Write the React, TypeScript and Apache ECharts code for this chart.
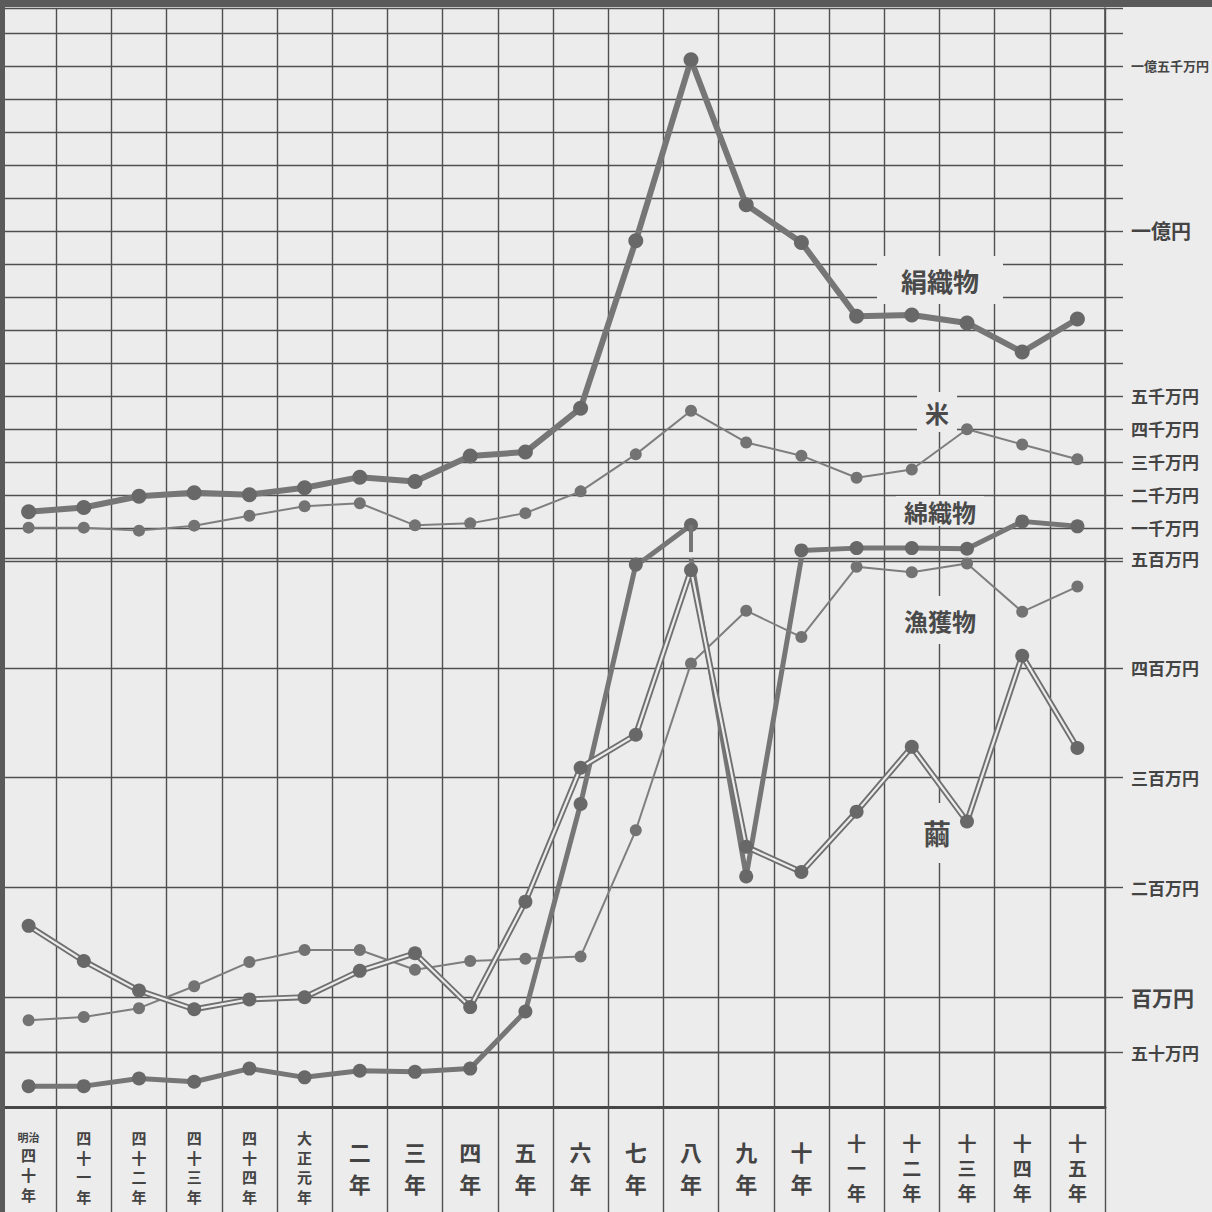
import React, { useEffect, useRef } from 'react';
import * as echarts from 'echarts';

// 年次
const years = ['明治四十年', '四十一年', '四十二年', '四十三年', '四十四年', '大正元年', '二年', '三年', '四年', '五年', '六年', '七年', '八年', '九年', '十年', '十一年', '十二年', '十三年', '十四年', '十五年'];

// 単位: 万円 (上段)
const silkFabrics = [1490, 1620, 1960, 2070, 2010, 2220, 2540, 2410, 3180, 3300, 4630, 9700, 15180, 10790, 9650, 7410, 7450, 7210, 6330, 7330];
const rice = [1010, 1010, 920, 1070, 1370, 1660, 1750, 1080, 1140, 1450, 2110, 3230, 4550, 3590, 3190, 2520, 2770, 3990, 3530, 3080];
const cottonUpper = [null, null, null, null, null, null, null, null, null, null, null, -150, 1090, null, 320, 390, 390, 370, 1200, 1050];
const cottonUpperNoMark = [11];

// 単位: 万円 (下段)
const cottonLowerA = [19, 19, 26, 23, 35, 27, 33, 32, 35, 87, 276, 494, null, null, null, null, null, null, null, null];
const cottonLowerB = [null, null, null, null, null, null, null, null, null, null, null, null, 500, 210, 500, null, null, null, null, null];
const cottonLowerBNoMark = [12, 14];
const fishery = [79, 82, 90, 110, 132, 143, 143, 125, 133, 135, 137, 252, 404, 452, 428, 492, 487, 495, 451, 474];
const cocoon = [165, 133, 106, 89, 98, 100, 124, 140, 91, 187, 309, 339, 489, 237, 214, 269, 328, 260, 411, 327];

// 目盛
const upperTickLabels: Record<number, string> = { 1000: '一千万円', 2000: '二千万円', 3000: '三千万円', 4000: '四千万円', 5000: '五千万円', 10000: '一億円', 15000: '一億五千万円' };
const lowerTickValues = [50, 100, 200, 300, 400, 500];
const lowerTickLabels: Record<number, string> = { 50: '五十万円', 100: '百万円', 200: '二百万円', 300: '三百万円', 400: '四百万円', 500: '五百万円' };

const seriesNames = { silk: '絹織物', rice: '米', cotton: '綿織物', fish: '漁獲物', cocoon: '繭' };

const BG = '#ececec';
const GRID = '#4f4f4f';
const LINE = '#767676';
const MARK = '#686868';
const TEXT = '#444444';
const FONT = "'Noto Sans CJK JP', 'Noto Sans', sans-serif";

function verticalLabel(name: string) {
  if (name.startsWith('明治')) {
    return '{mj|明治}\n' + name.slice(2).split('').map((c) => `{m3|${c}}`).join('\n');
  }
  const chars = name.split('');
  const st = chars.length === 2 ? 'a2' : chars.length === 3 ? 'a3' : 'a4';
  return chars.map((c) => `{${st}|${c}}`).join('\n');
}

function withNoMark(data: (number | null)[], idx: number[]) {
  return data.map((v, i) => (idx.includes(i) && v !== null ? { value: v, symbol: 'none' } : v));
}

export default function App() {
  const ref = useRef<HTMLDivElement>(null);

  useEffect(() => {
    if (!ref.current) return;
    const chart = echarts.init(ref.current, undefined, { renderer: 'svg' });

    const richBase = { fontFamily: FONT, fontWeight: 'bold' as const, color: TEXT };

    const catAxisCommon = {
      type: 'category' as const,
      data: years,
      boundaryGap: true,
      splitLine: { show: true, interval: 0, lineStyle: { color: GRID, width: 1.4 } },
    };

    const labelText = (text: string, x: number, y: number, size: number, pad: number[]) => ({
      type: 'text',
      x,
      y,
      z: 1,
      style: {
        text,
        fill: '#4a4a4a',
        font: `bold ${size}px ${FONT}`,
        align: 'center',
        verticalAlign: 'middle',
        backgroundColor: BG,
        padding: pad,
      },
    });

    chart.setOption({
      animation: false,
      backgroundColor: BG,
      grid: [
        { left: 1, right: 107, top: 8, bottom: 651 },
        { left: 1, right: 107, top: 558, bottom: 105 },
      ],
      xAxis: [
        {
          ...catAxisCommon,
          gridIndex: 0,
          axisLine: { show: false },
          axisTick: { show: false },
          axisLabel: { show: false },
        },
        {
          ...catAxisCommon,
          gridIndex: 1,
          axisLine: { show: true, lineStyle: { color: '#474747', width: 3 } },
          axisTick: { show: true, interval: 0, length: 105, lineStyle: { color: GRID, width: 1.4 } },
          axisLabel: {
            show: true,
            interval: 0,
            margin: 60,
            verticalAlign: 'middle',
            align: 'center',
            formatter: (v: string) => verticalLabel(v),
            rich: {
              mj: { ...richBase, fontSize: 11, lineHeight: 15 },
              m3: { ...richBase, fontSize: 15, lineHeight: 20 },
              a2: { ...richBase, fontSize: 22, lineHeight: 32 },
              a3: { ...richBase, fontSize: 19, lineHeight: 25 },
              a4: { ...richBase, fontSize: 15, lineHeight: 19.5 },
            },
          },
        },
      ],
      yAxis: [
        {
          type: 'value',
          gridIndex: 0,
          position: 'right',
          min: 0,
          max: 16750,
          interval: 1000,
          axisLine: { show: true, lineStyle: { color: GRID, width: 1.6 } },
          axisTick: { show: true, inside: false, length: 18, lineStyle: { color: GRID, width: 1.4 } },
          splitLine: { show: true, lineStyle: { color: GRID, width: 1.4 } },
          axisLabel: {
            show: true,
            margin: 26,
            formatter: (v: number) => {
              const t = upperTickLabels[v];
              if (!t) return '';
              return v === 15000 ? `{s|${t}}` : v === 10000 ? `{b|${t}}` : `{n|${t}}`;
            },
            rich: {
              s: { ...richBase, fontSize: 13 },
              b: { ...richBase, fontSize: 20 },
              n: { ...richBase, fontSize: 17 },
            },
          },
        },
        {
          type: 'value',
          gridIndex: 1,
          position: 'right',
          min: 0,
          max: 500,
          interval: 100,
          axisLine: { show: true, lineStyle: { color: GRID, width: 1.6 } },
          axisTick: { show: true, inside: false, length: 18, customValues: lowerTickValues, lineStyle: { color: GRID, width: 1.4 } },
          splitLine: { show: true, lineStyle: { color: GRID, width: 1.4 } },
          axisLabel: {
            show: true,
            margin: 26,
            customValues: lowerTickValues,
            formatter: (v: number) => {
              const t = lowerTickLabels[v];
              if (!t) return '';
              return v === 100 ? `{b|${t}}` : `{n|${t}}`;
            },
            rich: {
              b: { ...richBase, fontSize: 21 },
              n: { ...richBase, fontSize: 17 },
            },
          },
        },
      ],
      series: [
        {
          name: seriesNames.silk,
          type: 'line',
          xAxisIndex: 0,
          yAxisIndex: 0,
          data: silkFabrics,
          symbol: 'circle',
          symbolSize: 15,
          lineStyle: { color: LINE, width: 6 },
          itemStyle: { color: MARK },
        },
        {
          name: seriesNames.rice,
          type: 'line',
          xAxisIndex: 0,
          yAxisIndex: 0,
          data: rice,
          symbol: 'circle',
          symbolSize: 12,
          lineStyle: { color: '#7e7e7e', width: 2 },
          itemStyle: { color: '#737373' },
        },
        {
          name: seriesNames.cotton,
          type: 'line',
          xAxisIndex: 0,
          yAxisIndex: 0,
          data: withNoMark(cottonUpper, cottonUpperNoMark),
          connectNulls: false,
          symbol: 'circle',
          symbolSize: 14,
          lineStyle: { color: LINE, width: 5 },
          itemStyle: { color: MARK },
          markLine: {
            silent: true,
            symbol: ['none', 'none'],
            label: { show: false },
            lineStyle: { color: LINE, width: 4, type: 'solid' },
            data: [[{ coord: [12, 1090] }, { coord: [12, 270] }]],
          },
        },
        {
          name: seriesNames.cotton,
          type: 'line',
          xAxisIndex: 1,
          yAxisIndex: 1,
          data: cottonLowerA,
          connectNulls: false,
          symbol: 'circle',
          symbolSize: 14,
          lineStyle: { color: LINE, width: 5 },
          itemStyle: { color: MARK },
        },
        {
          name: seriesNames.cotton,
          type: 'line',
          xAxisIndex: 1,
          yAxisIndex: 1,
          data: withNoMark(cottonLowerB, cottonLowerBNoMark),
          connectNulls: false,
          symbol: 'circle',
          symbolSize: 14,
          lineStyle: { color: LINE, width: 5 },
          itemStyle: { color: MARK },
        },
        {
          name: seriesNames.fish,
          type: 'line',
          xAxisIndex: 1,
          yAxisIndex: 1,
          data: fishery,
          symbol: 'circle',
          symbolSize: 12,
          lineStyle: { color: '#7e7e7e', width: 2 },
          itemStyle: { color: '#737373' },
          markLine: {
            silent: true,
            symbol: ['none', 'none'],
            label: { show: false },
            lineStyle: { color: GRID, width: 1.4, type: 'solid' },
            data: [{ yAxis: 50 }],
            z: 0,
          },
        },
        {
          name: seriesNames.cocoon,
          type: 'line',
          xAxisIndex: 1,
          yAxisIndex: 1,
          data: cocoon,
          symbol: 'none',
          lineStyle: { color: '#707070', width: 6 },
        },
        {
          name: seriesNames.cocoon,
          type: 'line',
          xAxisIndex: 1,
          yAxisIndex: 1,
          data: cocoon,
          symbol: 'none',
          lineStyle: { color: BG, width: 2.2 },
        },
        {
          name: seriesNames.cocoon,
          type: 'line',
          xAxisIndex: 1,
          yAxisIndex: 1,
          data: cocoon,
          symbol: 'circle',
          symbolSize: 14,
          lineStyle: { width: 0, opacity: 0 },
          itemStyle: { color: MARK },
        },
      ],
      graphic: [
        labelText(seriesNames.silk, 940, 280, 26, [12, 24, 10, 24]),
        labelText(seriesNames.rice, 937, 412, 24, [8, 8, 8, 8]),
        labelText(seriesNames.cotton, 940, 511, 24, [3, 8, 3, 8]),
        labelText(seriesNames.fish, 940, 620, 24, [12, 8, 12, 8]),
        labelText(seriesNames.cocoon, 937, 833, 28, [16, 8, 16, 8]),
        { type: 'rect', z: 100, shape: { x: 0, y: 0, width: 1212, height: 7 }, style: { fill: '#5a5a5a' } },
        { type: 'rect', z: 100, shape: { x: 0, y: 0, width: 5, height: 1212 }, style: { fill: '#5a5a5a' } },
      ],
    });

    return () => chart.dispose();
  }, []);

  return <div ref={ref} style={{ position: 'absolute', left: 0, top: 0, width: 1212, height: 1212 }} />;
}
